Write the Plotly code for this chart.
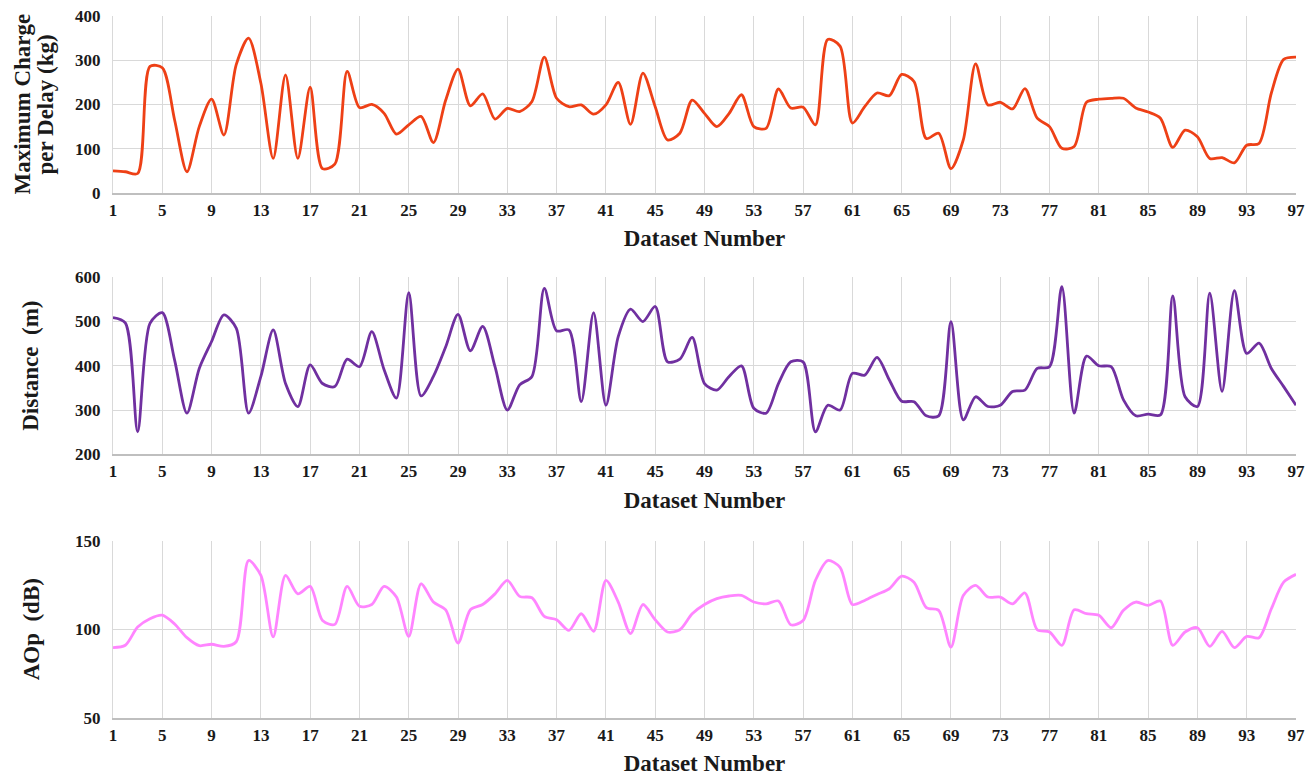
import plotly.graph_objects as go

dataset = list(range(1, 98))

charge_kg = [50, 48, 44, 286, 283, 165, 48, 150, 212, 131, 290, 350, 248, 78, 267, 78, 239, 55, 65, 275,
             193, 200, 180, 133, 154, 173, 114, 210, 280, 197, 224, 167, 191, 184, 207, 307, 214, 195, 199, 178,
             199, 250, 155, 271, 195, 120, 135, 210, 180, 150, 180, 222, 150, 146, 235, 192, 194, 154, 347, 332,
             158, 195, 226, 220, 268, 252, 123, 135, 55, 120, 292, 199, 205, 190, 236, 169, 150, 101, 105, 205,
             212, 214, 214, 192, 183, 169, 103, 142, 127, 78, 80, 68, 108, 112, 226, 302, 307]

distance_m = [509, 497, 251, 496, 520, 413, 293, 394, 455, 515, 485, 293, 376, 481, 360, 308, 402, 360, 353, 415,
              398, 477, 391, 327, 565, 332, 376, 443, 516, 434, 489, 398, 300, 357, 376, 575, 479, 481, 319, 520,
              311, 466, 528, 500, 534, 409, 415, 464, 360, 345, 376, 400, 304, 293, 360, 409, 409, 251, 311, 300,
              383, 379, 419, 368, 320, 319, 287, 287, 500, 278, 330, 308, 311, 342, 345, 394, 398, 579, 293, 422,
              400, 398, 323, 287, 291, 289, 558, 330, 308, 564, 342, 570, 428, 451, 394, 353, 311]

aop_db = [89.7, 91, 101.3, 106, 108, 103, 95.3, 90.8, 91.6, 90.4, 93, 138.8, 130.4, 95.7, 130.4, 120, 124.2, 105, 102.8, 124.2,
          113, 114, 124.2, 118.2, 96, 125.7, 115.4, 111, 92.3, 111, 114, 120, 127.6, 118.6, 117.8, 107.3, 105.4, 99.4, 108.8, 98.9,
          127.6, 115.4, 97.6, 114, 105.4, 98.5, 99.8, 108.8, 114, 117.3, 118.8, 119.1, 115.4, 114.4, 116, 102.6, 105, 127.6, 138.8, 135,
          114, 116.3, 119.7, 122.9, 130, 126.6, 112.2, 110.7, 90, 119.1, 124.8, 118.2, 118.2, 114.4, 120.5, 99.8, 98.5, 91, 111, 108.8,
          107.9, 100.9, 110.7, 115.4, 113.5, 116, 91, 98.5, 100.9, 90.4, 98.9, 89.7, 96, 95.3, 111.6, 126.6, 131]

x_ticks = list(range(1, 98, 4))

FONT = "Liberation Serif"
GRID = "#D9D9D9"

W, H = 1314, 779
ML, MR, MT, MB = 113, 18, 16, 61

fig = go.Figure()
series = [
    (charge_kg, "#EE4016", "x", "y"),
    (distance_m, "#7030A0", "x2", "y2"),
    (aop_db, "#FF85FF", "x3", "y3"),
]
for vals, color, xa, ya in series:
    fig.add_trace(go.Scatter(x=dataset, y=vals, mode="lines",
                             line=dict(color=color, width=2.8, shape="spline", smoothing=0.8),
                             xaxis=xa, yaxis=ya, showlegend=False))

domains = [(0.7479, 1.0), (0.3756, 0.6278), (0.0, 0.2526)]
yranges = [(0, 400, 100), (200, 600, 100), (50, 150, 50)]

tickfont = dict(family=FONT, size=17, color="#1a1a1a", weight="bold")
titlefont = dict(family=FONT, size=23, color="#1a1a1a", weight="bold")

layout = dict(
    width=W, height=H,
    margin=dict(l=ML, r=MR, t=MT, b=MB, autoexpand=False),
    paper_bgcolor="white", plot_bgcolor="white",
    showlegend=False,
)
for k in range(3):
    sx = "" if k == 0 else str(k + 1)
    layout["xaxis" + sx] = dict(
        domain=[0, 1], range=[1, 97], tickvals=x_ticks, ticktext=[str(v) for v in x_ticks],
        showgrid=True, gridcolor=GRID, gridwidth=1, zeroline=False,
        showline=True, linecolor="#BFBFBF", linewidth=1.5,
        tickfont=tickfont, ticks="", ticklabelstandoff=1, automargin=False,
        title=dict(text="Dataset Number", font=titlefont, standoff=11),
        anchor="y" + sx,
    )
    lo, hi, dt = yranges[k]
    layout["yaxis" + sx] = dict(
        domain=list(domains[k]), range=[lo, hi], dtick=dt, tick0=lo,
        showgrid=True, gridcolor=GRID, gridwidth=1, zeroline=False,
        showline=True, linecolor="#D9D9D9", linewidth=1,
        tickfont=tickfont, ticks="",
        ticklabelstandoff=8, anchor="x" + sx, automargin=False,
    )

fig.update_layout(**layout)

annots = [
    ("Maximum Charge", 22, 0.5 * (domains[0][0] + domains[0][1])),
    ("per Delay (kg)", 45, 0.5 * (domains[0][0] + domains[0][1])),
    ("Distance  (m)", 31, 0.5 * (domains[1][0] + domains[1][1])),
    ("AOp  (dB)", 31, 0.5 * (domains[2][0] + domains[2][1])),
]
for txt, px, yc in annots:
    fig.add_annotation(text=txt, textangle=-90, xref="paper", yref="paper",
                       x=(px - ML) / (W - ML - MR), y=yc, xanchor="center", yanchor="middle",
                       showarrow=False, font=titlefont)

fig.write_html("out.html", config={"displayModeBar": False},
               post_script="document.body.style.margin='0px';")
